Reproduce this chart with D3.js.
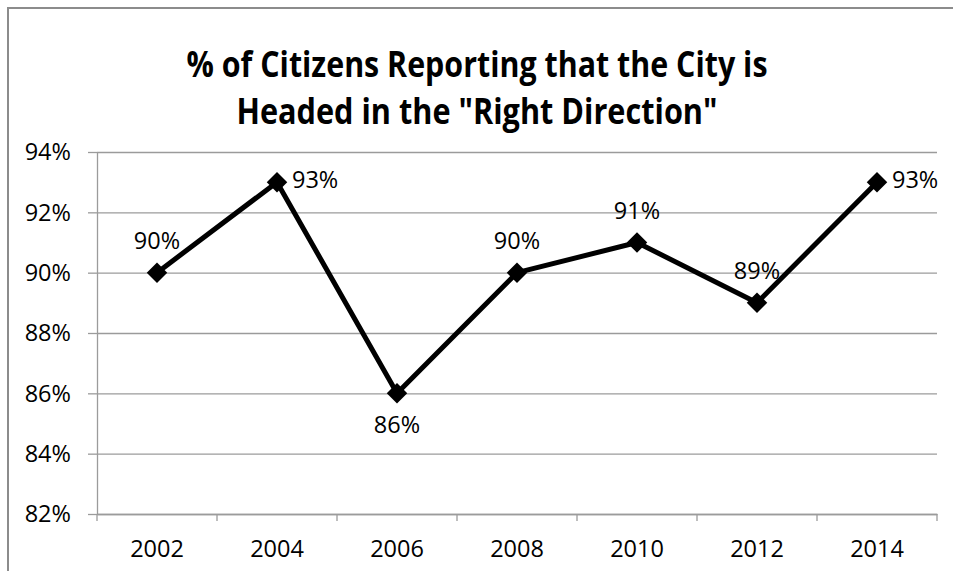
<!DOCTYPE html>
<html>
<head>
<meta charset="utf-8">
<script src="https://cdn.jsdelivr.net/npm/d3@7"></script>
<style>
  html, body { margin: 0; padding: 0; background: #fff; }
  svg { display: block; font-family: "Open Sans", "Liberation Sans", sans-serif; }
</style>
</head>
<body>
<svg id="chart" width="953" height="571"></svg>
<script>
// ---- data ----
const years = ["2002", "2004", "2006", "2008", "2010", "2012", "2014"];
const values = [90, 93, 86, 90, 91, 89, 93];
const labelPlacement = ["above", "right", "below", "above", "above", "above", "right"];
const yTicks = [82, 84, 86, 88, 90, 92, 94];
const titleLines = ["% of Citizens Reporting that the City is", "Headed in the \"Right Direction\""];

// ---- layout ----
const plot = { left: 97, right: 937, top: 152, bottom: 514 };
const gridColor = "#9b9b9b";
const fontSize = 23.5;
const svg = d3.select("#chart");

// chart frame (extends past the window on right/bottom, as in the reference)
svg.append("rect")
  .attr("x", 8).attr("y", 8).attr("width", 1100).attr("height", 1100)
  .attr("fill", "#fff").attr("stroke", "#8c8c8c").attr("stroke-width", 2);

// title
const title = svg.append("g").attr("font-weight", "bold").attr("fill", "#000")
  .attr("font-size", 36).attr("text-anchor", "middle");
title.append("text").attr("x", 477).attr("y", 77)
  .attr("textLength", 581).attr("lengthAdjust", "spacingAndGlyphs").text(titleLines[0]);
title.append("text").attr("x", 477).attr("y", 124)
  .attr("textLength", 481).attr("lengthAdjust", "spacingAndGlyphs").text(titleLines[1]);

// scales
const x = d3.scaleBand().domain(years).range([plot.left, plot.right]).padding(0);
const y = d3.scaleLinear().domain([82, 94]).range([plot.bottom, plot.top]);
const cx = d => x(d) + x.bandwidth() / 2;

// gridlines
const grid = svg.append("g").attr("transform", `translate(${plot.left},0)`)
  .call(d3.axisLeft(y).tickValues(yTicks).tickSize(-(plot.right - plot.left)).tickFormat(""));
grid.select(".domain").remove();
grid.selectAll("line").attr("stroke", gridColor).attr("stroke-width", 1.3);

// y axis
const yAxis = svg.append("g").attr("transform", `translate(${plot.left},0)`)
  .call(d3.axisLeft(y).tickValues(yTicks).tickSizeInner(9).tickSizeOuter(0)
    .tickPadding(17).tickFormat(d => d + "%"));
yAxis.select(".domain").attr("stroke", gridColor).attr("stroke-width", 1.3);
yAxis.selectAll(".tick line").attr("stroke", gridColor).attr("stroke-width", 1.3);
yAxis.selectAll("text").attr("font-size", fontSize).attr("fill", "#000")
  .attr("font-family", "'Open Sans', sans-serif").attr("dy", "0.33em");

// x axis (labels centred in categories, ticks between categories)
const xAxis = svg.append("g").attr("transform", `translate(0,${plot.bottom})`)
  .call(d3.axisBottom(x).tickSizeInner(0).tickSizeOuter(0).tickPadding(26));
xAxis.select(".domain").attr("stroke", gridColor).attr("stroke-width", 1.3);
xAxis.selectAll("text").attr("font-size", fontSize).attr("fill", "#000")
  .attr("font-family", "'Open Sans', sans-serif");
const bounds = years.map(d => x(d)).concat([x.range()[1]]);
svg.append("g").selectAll("line").data(bounds).join("line")
  .attr("x1", d => d).attr("x2", d => d)
  .attr("y1", plot.bottom).attr("y2", plot.bottom + 7)
  .attr("stroke", gridColor).attr("stroke-width", 1.3);

// series line
const pts = years.map((yr, i) => ({ yr, v: values[i], place: labelPlacement[i] }));
svg.append("path").datum(pts)
  .attr("fill", "none").attr("stroke", "#000").attr("stroke-width", 5)
  .attr("stroke-linejoin", "round")
  .attr("d", d3.line().x(d => cx(d.yr)).y(d => y(d.v)));

// diamond markers
svg.append("g").selectAll("path").data(pts).join("path")
  .attr("transform", d => `translate(${cx(d.yr)},${y(d.v)}) rotate(45)`)
  .attr("d", d3.symbol().type(d3.symbolSquare).size(210))
  .attr("fill", "#000");

// data labels
svg.append("g").attr("font-size", fontSize).attr("fill", "#000")
  .selectAll("text").data(pts).join("text")
  .attr("x", d => d.place === "right" ? cx(d.yr) + 15 : cx(d.yr))
  .attr("y", d => d.place === "above" ? y(d.v) - 32 : d.place === "below" ? y(d.v) + 31 : y(d.v) - 3)
  .attr("dy", "0.36em")
  .attr("text-anchor", d => d.place === "right" ? "start" : "middle")
  .text(d => d.v + "%");
</script>
</body>
</html>
